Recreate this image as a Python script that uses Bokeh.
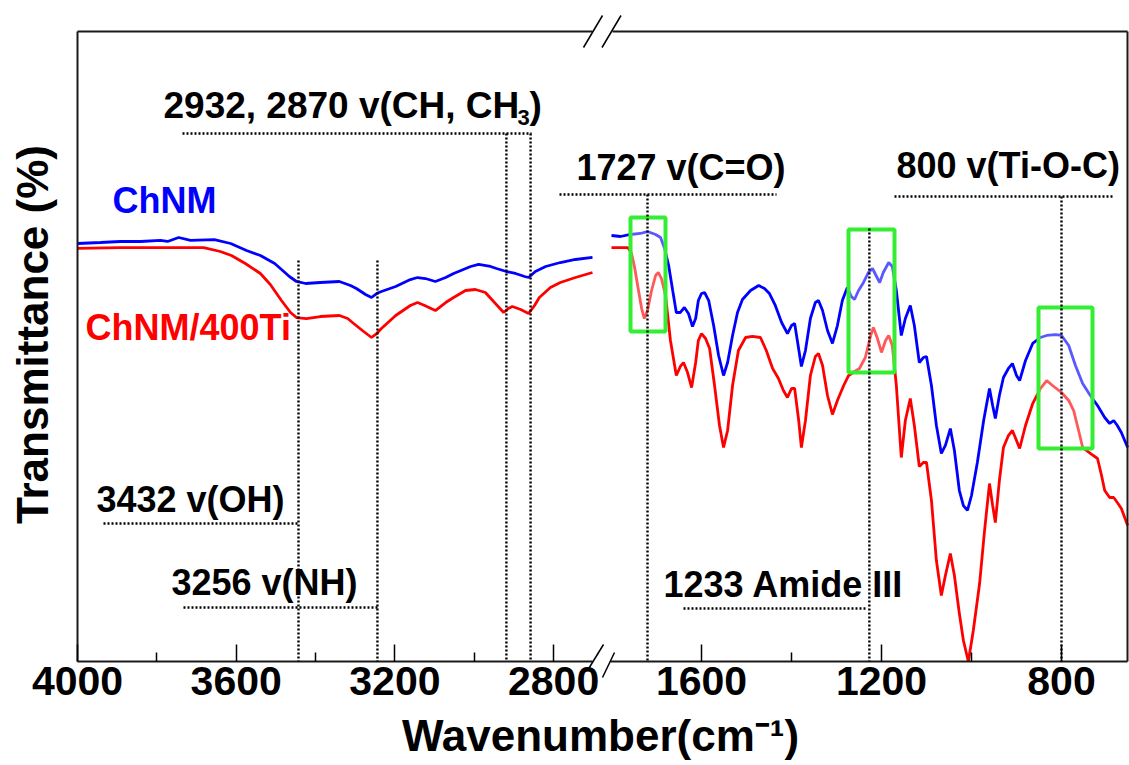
import math
from bokeh.plotting import figure
from bokeh.models import Range1d, FixedTicker, CustomJSTickFormatter
from bokeh.embed import file_html
from bokeh.resources import INLINE
from bokeh.core.properties import value

# ---------------- data ----------------
# high-wavenumber panel (cm-1) -> transmittance (arb. %, 0 = lowest point of the plot)
wn_hi_chnm = [4000, 3942, 3892, 3841, 3791, 3773, 3745, 3715, 3655, 3614, 3574, 3539, 3503, 3483,
              3466, 3448, 3425, 3388, 3340, 3312, 3297, 3274, 3259, 3246, 3234, 3198, 3161, 3143,
              3123, 3098, 3072, 3052, 3009, 2989, 2959, 2944, 2919, 2896, 2873, 2863, 2846, 2820,
              2783, 2745, 2702]
t_hi_chnm = [66.35, 66.51, 66.67, 66.67, 66.83, 66.67, 67.30, 66.83, 66.98, 66.35, 65.24, 64.44,
             63.17, 62.06, 61.11, 60.32, 60.00, 60.16, 60.32, 59.68, 59.21, 58.25, 57.78, 58.41,
             58.73, 59.52, 60.63, 60.95, 60.79, 60.32, 60.95, 61.59, 62.70, 63.02, 62.70, 62.38,
             61.90, 61.59, 61.11, 60.95, 61.90, 62.70, 63.33, 63.81, 64.13]
wn_hi_ti = [4000, 3892, 3791, 3682, 3640, 3612, 3577, 3539, 3514, 3486, 3463, 3448, 3423, 3388,
            3340, 3319, 3304, 3282, 3259, 3246, 3234, 3198, 3161, 3143, 3125, 3098, 3072, 3052,
            3022, 2997, 2972, 2949, 2926, 2914, 2904, 2883, 2863, 2848, 2836, 2808, 2783, 2745, 2702]
t_hi_ti = [65.56, 65.71, 65.71, 65.71, 65.08, 64.44, 63.17, 61.59, 59.84, 57.30, 55.40, 54.60,
           54.44, 54.76, 54.92, 54.44, 53.65, 52.54, 51.43, 52.06, 52.86, 54.92, 56.51, 56.98,
           56.51, 55.71, 56.98, 57.78, 58.89, 59.05, 58.57, 56.98, 55.40, 56.03, 56.35, 55.87,
           55.24, 56.51, 57.78, 59.37, 60.16, 60.95, 61.75]

# low-wavenumber panel (cm-1)
wn_lo_chnm = [1800, 1780, 1758, 1736, 1720, 1702, 1691, 1682, 1673, 1664, 1656, 1647, 1638, 1629,
              1620, 1613, 1607, 1600, 1593, 1584, 1573, 1562, 1551, 1542, 1531, 1520, 1509, 1491,
              1473, 1460, 1449, 1436, 1422, 1409, 1400, 1393, 1387, 1378, 1369, 1358, 1347, 1340,
              1331, 1320, 1309, 1298, 1287, 1276, 1267, 1260, 1251, 1240, 1229, 1220, 1211, 1204,
              1196, 1184, 1176, 1167, 1156, 1147, 1136, 1127, 1116, 1107, 1100, 1089, 1078, 1067,
              1058, 1047, 1038, 1027, 1018, 1009, 1000, 987, 973, 960, 953, 947, 938, 929, 918,
              909, 900, 893, 880, 864, 847, 833, 813, 800, 784, 769, 753, 736, 720, 704, 693, 684,
              676, 667, 653]
t_lo_chnm = [67.62, 67.46, 67.78, 67.94, 68.25, 67.78, 67.30, 65.56, 62.86, 58.89, 55.40, 55.40,
             56.19, 55.24, 53.17, 54.44, 57.30, 58.41, 58.57, 57.30, 53.33, 48.57, 45.40, 47.46,
             51.75, 55.40, 57.46, 58.89, 59.68, 59.21, 58.41, 56.51, 53.81, 52.06, 53.33, 53.65,
             50.95, 46.83, 49.37, 54.44, 56.98, 57.30, 55.71, 52.54, 50.48, 53.33, 57.30, 59.37,
             57.94, 57.46, 58.89, 60.16, 61.75, 62.38, 61.11, 60.16, 61.75, 63.33, 62.70, 58.89,
             51.75, 54.44, 56.51, 53.33, 47.46, 48.25, 48.41, 43.81, 37.46, 33.02, 34.29, 36.98,
             33.49, 27.14, 24.76, 23.97, 26.35, 31.59, 38.25, 43.33, 40.63, 38.57, 42.22, 45.08,
             46.51, 47.30, 45.40, 44.60, 47.78, 50.48, 51.43, 51.75, 51.90, 51.75, 50.16, 46.98,
             44.13, 42.22, 40.63, 38.73, 37.78, 38.25, 37.46, 36.35, 33.97]
wn_lo_ti = [1800, 1764, 1756, 1749, 1740, 1733, 1727, 1720, 1711, 1702, 1696, 1689, 1680, 1669,
            1656, 1647, 1640, 1631, 1622, 1613, 1607, 1600, 1591, 1582, 1571, 1560, 1551, 1542,
            1531, 1518, 1502, 1487, 1469, 1456, 1442, 1429, 1418, 1409, 1400, 1393, 1384, 1378,
            1369, 1358, 1347, 1340, 1331, 1320, 1309, 1298, 1284, 1273, 1260, 1249, 1236, 1224,
            1218, 1209, 1200, 1191, 1184, 1176, 1167, 1156, 1147, 1136, 1127, 1116, 1107, 1100,
            1089, 1078, 1067, 1058, 1047, 1038, 1027, 1018, 1007, 996, 982, 971, 960, 953, 947,
            938, 929, 918, 909, 900, 893, 880, 864, 847, 833, 820, 800, 784, 773, 762, 753, 736,
            720, 711, 704, 693, 684, 676, 667, 653]
t_lo_ti = [65.71, 65.71, 64.92, 62.70, 58.89, 56.03, 54.44, 55.71, 58.89, 61.27, 61.75, 60.79,
           58.10, 50.95, 45.40, 46.83, 47.46, 45.87, 43.49, 47.46, 50.95, 52.06, 51.27, 49.68,
           43.81, 37.46, 33.97, 36.67, 43.81, 49.37, 51.43, 51.59, 51.43, 49.37, 46.51, 44.92,
           43.02, 41.90, 43.33, 43.33, 38.25, 33.97, 38.25, 45.40, 48.41, 48.89, 46.98, 42.22,
           39.21, 41.43, 43.81, 45.40, 46.03, 46.51, 48.25, 51.75, 53.02, 51.27, 49.05, 50.95,
           51.75, 50.16, 43.81, 32.38, 38.25, 41.75, 37.46, 30.95, 31.59, 31.59, 25.56, 16.03,
           10.48, 13.65, 17.14, 13.65, 7.62, 3.33, 0.00, 4.92, 12.38, 20.79, 28.25, 24.76, 22.06,
           28.73, 33.97, 35.87, 36.67, 35.08, 33.81, 37.46, 40.95, 43.33, 44.60, 43.81, 42.70,
           41.43, 39.84, 36.67, 33.97, 33.02, 32.22, 29.52, 27.14, 26.03, 26.03, 25.24, 24.29,
           21.59]

series_names = ["ChNM", "ChNM/400Ti"]
series_colors = ["#0000ff", "#ff0000"]

hi_ticks = [4000, 3600, 3200, 2800]
hi_minor = [3800, 3400, 3000]
lo_ticks = [1600, 1200, 800]
lo_minor = [1400, 1000]

# band positions as drawn (cm-1)
bands_hi = [3443, 3244, 2919, 2858]
bands_lo = [1720, 1227, 800]

# ---------------- layout geometry (page pixels) ----------------
CW, CH = 1129, 765
# high panel: 4000 cm-1 at x=77, 0.39675 px per cm-1; low panel: 1600 at x=701, 0.45 px per cm-1
KL, KR, KY = 0.39675, 0.45, 6.3
L0, L1 = 4000 + 77 / KL, 4000 - (CW - 77) / KL
R0, R1 = 1600 + 701 / KR, 1600 - (CW - 701) / KR
Y1, Y0 = 661 / KY, (661 - CH) / KY


def xl(px):
    return L0 - px / KL


def yv(py):
    return (661 - py) / KY


def lo_to_main(w):
    px = (R0 - w) * KR
    return xl(px)


p = figure(frame_width=CW, frame_height=CH, x_range=Range1d(L0, L1), y_range=Range1d(Y0, Y1),
           output_backend="svg", toolbar_location=None, y_axis_location=None,
           min_border=0, min_border_left=0, min_border_right=0, min_border_top=0,
           min_border_bottom=0)
p.extra_x_ranges = {"lo": Range1d(R0, R1)}
p.outline_line_color = None
p.grid.visible = False
p.background_fill_color = "white"
p.border_fill_color = "white"

# x axis (drawn at the bottom edge of the data box)
xa = p.xaxis[0]
xa.fixed_location = 0
xa.ticker = FixedTicker(ticks=hi_ticks + [lo_to_main(w) for w in lo_ticks],
                        minor_ticks=hi_minor + [lo_to_main(w) for w in lo_minor])
xa.formatter = CustomJSTickFormatter(args=dict(xl=p.x_range, xr=p.extra_x_ranges["lo"]), code="""
    if (tick > 2650) { return tick.toFixed(0); }
    const f = (tick - xl.start) / (xl.end - xl.start);
    const w = xr.start + f * (xr.end - xr.start);
    return (Math.round(w / 10) * 10).toFixed(0);
""")
xa.axis_line_color = None
xa.major_tick_in = 17
xa.major_tick_out = 0
xa.minor_tick_in = 9
xa.minor_tick_out = 0
xa.major_tick_line_color = "black"
xa.minor_tick_line_color = "black"
xa.major_tick_line_width = 1.5
xa.minor_tick_line_width = 1.5
xa.major_label_text_font = "Liberation Sans"
xa.major_label_text_font_style = "bold"
xa.major_label_text_font_size = "41px"
xa.major_label_text_color = "black"
xa.major_label_standoff = 5

tf = value("Liberation Sans")

# axis titles
p.text(x=[xl(600)], y=[yv(735)], text=["Wavenumber(cm\u207b\u00b9)"], text_font=tf,
       text_font_style="bold", text_font_size="44px", text_color="black",
       text_align="center", text_baseline="middle")
p.text(x=[xl(32)], y=[yv(334)], text=["Transmittance (%)"], angle=math.pi / 2, text_font=tf,
       text_font_style="bold", text_font_size="44px", text_color="black",
       text_align="center", text_baseline="middle")

# spectra
p.line(wn_hi_chnm, t_hi_chnm, line_color=series_colors[0], line_width=2.8)
p.line(wn_hi_ti, t_hi_ti, line_color=series_colors[1], line_width=2.8)
p.line(wn_lo_chnm, t_lo_chnm, line_color=series_colors[0], line_width=2.8, x_range_name="lo")
p.line(wn_lo_ti, t_lo_ti, line_color=series_colors[1], line_width=2.8, x_range_name="lo")

# highlight boxes
p.quad(left=[xl(630), xl(848), xl(1038)], right=[xl(665), xl(894), xl(1092)],
       top=[yv(217), yv(229), yv(307)], bottom=[yv(331), yv(372), yv(448)],
       fill_color="white", fill_alpha=0.35, line_color="#33ee33", line_width=4)

# box lines (gap at the axis break)
fc = "#1a1a1a"
p.segment(x0=[xl(77), xl(612), xl(77), xl(610), xl(77), xl(1127)],
          y0=[yv(31), yv(31), 0, 0, 0, 0],
          x1=[xl(592), xl(1127), xl(592), xl(1127), xl(77), xl(1127)],
          y1=[yv(31), yv(31), 0, 0, yv(31), yv(31)], line_color=fc, line_width=2)

# axis break marks
p.segment(x0=[xl(583), xl(601.5), xl(587), xl(602)],
          y0=[yv(47), yv(47), yv(670), yv(677)],
          x1=[xl(602), xl(620.5), xl(603), xl(614)],
          y1=[yv(15), yv(15), yv(644), yv(652)], line_color="black", line_width=1.5)

# band marker lines
dot = dict(line_color="black", line_width=2.4, line_dash="2 2")
p.segment(x0=bands_hi, x1=bands_hi, y0=[yv(260), yv(260), yv(133), yv(133)], y1=[0, 0, 0, 0], **dot)
p.segment(x0=bands_lo, x1=bands_lo, y0=[yv(194), yv(228), yv(196)], y1=[0, 0, 0],
          x_range_name="lo", **dot)
# leader lines under labels
p.segment(x0=[xl(182), xl(559), xl(894), xl(103), xl(183), xl(683)],
          x1=[xl(531), xl(776), xl(1112), xl(298), xl(377), xl(865)],
          y0=[yv(133), yv(194), yv(196), yv(523), yv(607), yv(608)],
          y1=[yv(133), yv(194), yv(196), yv(523), yv(607), yv(608)], **dot)

# annotation texts (y = vertical centre of the capitals)
p.text(x=[xl(576), xl(896), xl(96), xl(171), xl(663)],
       y=[yv(167), yv(165), yv(499), yv(582), yv(584)],
       text=["1727 v(C=O)", "800 v(Ti-O-C)", "3432 v(OH)", "3256 v(NH)", "1233 Amide III"],
       text_font=tf, text_font_style="bold", text_font_size="36px", text_color="black",
       text_align="left", text_baseline="middle")
p.text(x=[xl(163)], y=[yv(105)], text=["2932, 2870 v(CH, CH"], text_font=tf,
       text_font_style="bold", text_font_size="37px", text_color="black",
       text_align="left", text_baseline="middle")
p.text(x=[xl(517)], y=[yv(117)], text=["3"], text_font=tf, text_font_style="bold",
       text_font_size="22px", text_color="black", text_align="left", text_baseline="middle")
p.text(x=[xl(529)], y=[yv(105)], text=[")"], text_font=tf, text_font_style="bold",
       text_font_size="37px", text_color="black", text_align="left", text_baseline="middle")

# series labels
p.text(x=[xl(112), xl(85)], y=[yv(200), yv(327)], text=series_names, text_color=series_colors,
       text_font=tf, text_font_style="bold", text_font_size="36px",
       text_align="left", text_baseline="middle")

open("out.html", "w").write(file_html(p, INLINE))
